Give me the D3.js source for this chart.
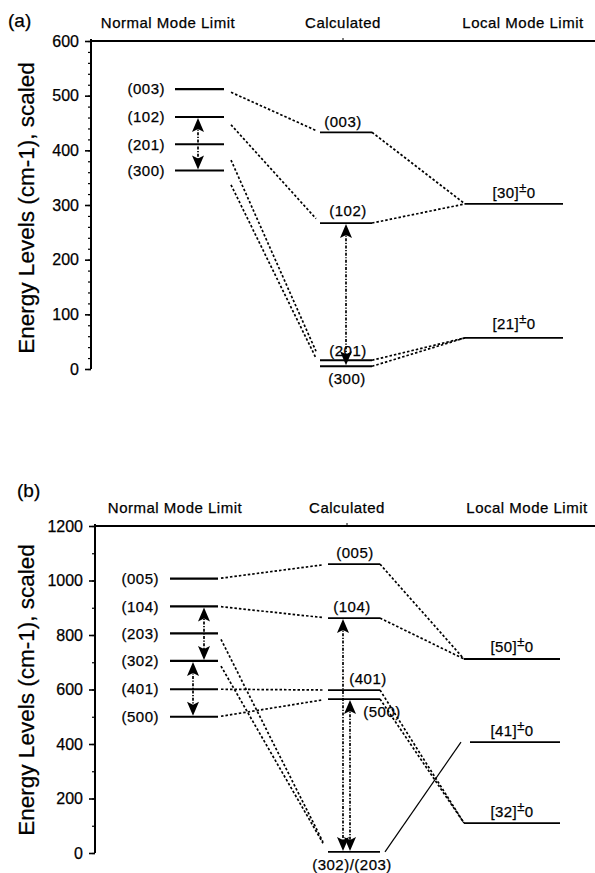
<!DOCTYPE html>
<html>
<head>
<meta charset="utf-8">
<script src="https://cdn.jsdelivr.net/npm/d3@7"></script>
<style>
  html, body { margin: 0; padding: 0; background: #fff; }
  svg { display: block; }
  text { font-family: "Liberation Sans", Arial, Helvetica, sans-serif; fill: #000; stroke: #000; stroke-width: 0.25; }
</style>
</head>
<body>
<svg id="chart" width="595" height="873"></svg>
<script>
// ---- Panel (a): fundamental-overtone manifold, v = 3 ----
const aTicks = [0, 100, 200, 300, 400, 500, 600];
const aMinorTicks = d3.range(0, 601, 20);
const aNormalLabels = ["(003)", "(102)", "(201)", "(300)"];
const aNormalValues = [512, 461, 411, 363];
const aCalcLabels = ["(003)", "(102)", "(201)", "(300)"];
const aCalcValues = [433, 267, 16, 5];
const aLocalLabels = ["[30]", "[21]"];
const aLocalValues = [302, 57];
// index pairs: normal -> calculated, calculated -> local
const aNormalToCalc = [[0, 0], [1, 1], [2, 2], [3, 3]];
const aCalcToLocal = [[0, 0], [1, 0], [2, 1], [3, 1]];
// double arrows: [column, fromIndex, toIndex]
const aArrows = [["normal", 1, 3], ["calc", 1, 3]];

// ---- Panel (b): v = 5 ----
const bTicks = [0, 200, 400, 600, 800, 1000, 1200];
const bMinorTicks = d3.range(0, 1201, 100);
const bNormalLabels = ["(005)", "(104)", "(203)", "(302)", "(401)", "(500)"];
const bNormalValues = [1007, 905, 806, 705, 601, 500];
const bCalcLabels = ["(005)", "(104)", "(401)", "(500)", "(302)/(203)"];
const bCalcValues = [1060, 862, 598, 565, 4];
const bLocalLabels = ["[50]", "[41]", "[32]"];
const bLocalValues = [712, 407, 110];
const bNormalToCalc = [[0, 0], [1, 1], [2, 4], [3, 4], [4, 2], [5, 3]];
const bCalcToLocal = [[0, 0], [1, 0], [2, 2], [3, 2], [4, 1]];
const bSolidLinks = [[4, 1]];
const bArrows = [["normal", 1, 3], ["normal", 3, 5], ["calc", 1, 4], ["calc", 3, 4]];

const headers = ["Normal Mode Limit", "Calculated", "Local Mode Limit"];
const yTitle = "Energy Levels (cm-1), scaled";

// ---- layout (pixels) ----
const panels = [
  {
    tag: "(a)", tagPos: [8, 27],
    ticks: aTicks, minor: aMinorTicks, domain: [0, 600], range: [369, 41], axisX: 91,
    headerY: 28, headerX: [168, 343, 523], titleY: 208,
    normal: { labels: aNormalLabels, values: aNormalValues, x: [175, 224], labelX: 165 },
    calc: { labels: aCalcLabels, values: aCalcValues, x: [320, 372],
            place: [[-3, -5], [2, -7], [2, -4], [1, 18]] },
    local: { labels: aLocalLabels, values: aLocalValues, x: [465, 563],
             place: [[0, -6], [0, -9]] },
    n2c: aNormalToCalc, c2l: aCalcToLocal, solid: [], arrows: aArrows,
    arrowX: { normal: [198], calc: [346] },
    n2cGap: [7, 4], c2lGap: [0, 0]
  },
  {
    tag: "(b)", tagPos: [17, 497],
    ticks: bTicks, minor: bMinorTicks, domain: [0, 1200], range: [853, 526], axisX: 95,
    headerY: 513, headerX: [175, 347, 527], titleY: 690,
    normal: { labels: bNormalLabels, values: bNormalValues, x: [170, 218], labelX: 159 },
    calc: { labels: bCalcLabels, values: bCalcValues, x: [328, 380],
            place: [[1, -6], [-2, -6], [14, -6], [28, 18], [-2, 18]] },
    local: { labels: bLocalLabels, values: bLocalValues, x: [464, 560],
             place: [[0, -7], [0, -6], [0, -6]] },
    n2c: bNormalToCalc, c2l: bCalcToLocal, solid: bSolidLinks, arrows: bArrows,
    arrowX: { normal: [204, 193], calc: [343, 350] },
    n2cGap: [3, 5], c2lGap: [0, 0]
  }
];

const svg = d3.select("#chart");

function arrowHead(g, x, yTip, dir) {
  // dir = -1 : pointing up, +1 : pointing down
  const h = 14, w = 6;
  const p = d3.path();
  p.moveTo(x, yTip);
  p.lineTo(x - w, yTip - dir * h);
  p.lineTo(x, yTip - dir * (h - 3));
  p.lineTo(x + w, yTip - dir * h);
  p.closePath();
  g.append("path").attr("d", p.toString()).attr("fill", "#000");
}

function trimmedLine(x0, y0, x1, y1, g0, g1) {
  const dx = x1 - x0, dy = y1 - y0;
  const t0 = g0 / dx, t1 = 1 - g1 / dx;
  return [x0 + dx * t0, y0 + dy * t0, x0 + dx * t1, y0 + dy * t1];
}

panels.forEach(P => {
  const g = svg.append("g");
  const y = d3.scaleLinear().domain(P.domain).range(P.range);

  // panel tag
  g.append("text").attr("x", P.tagPos[0]).attr("y", P.tagPos[1])
    .attr("font-size", 19).text(P.tag);

  // column headers
  headers.forEach((h, i) => {
    g.append("text").attr("x", P.headerX[i]).attr("y", P.headerY)
      .attr("text-anchor", "middle").attr("font-size", 15)
      .attr("letter-spacing", 0.5).text(h);
  });

  // top frame line
  g.append("line").attr("x1", P.axisX).attr("x2", 595)
    .attr("y1", y(P.domain[1])).attr("y2", y(P.domain[1]))
    .attr("stroke", "#000").attr("stroke-width", 2);
  g.append("line").attr("x1", P.headerX[1]).attr("x2", P.headerX[1])
    .attr("y1", y(P.domain[1]) - 3).attr("y2", y(P.domain[1]))
    .attr("stroke", "#000").attr("stroke-width", 1);

  // y axis: minor then major ticks
  const minorAxis = d3.axisLeft(y).tickValues(P.minor).tickSize(3).tickFormat("");
  g.append("g").attr("transform", `translate(${P.axisX},0)`).call(minorAxis)
    .call(s => s.select(".domain").remove())
    .selectAll("line").attr("stroke-width", 1.2);
  const majorAxis = d3.axisLeft(y).tickValues(P.ticks).tickSize(6).tickPadding(6)
    .tickFormat(d3.format("d"));
  const ax = g.append("g").attr("transform", `translate(${P.axisX},0)`).call(majorAxis);
  ax.select(".domain").attr("stroke-width", 2).attr("d",
    `M0,${y(P.domain[0])}V${y(P.domain[1]) - 2}`);
  ax.selectAll("line").attr("stroke-width", 1.6);
  ax.selectAll("text").attr("font-size", 16).attr("font-family",
    '"Liberation Sans", Arial, sans-serif').attr("fill", "#000");

  // y axis title
  g.append("text")
    .attr("transform", `translate(34,${P.titleY}) rotate(-90)`)
    .attr("text-anchor", "middle").attr("font-size", 22.5).text(yTitle);

  const levelY = (col, i) => y(P[col].values[i]);

  // connectors normal -> calculated
  P.n2c.forEach(([a, b]) => {
    const [x0, y0, x1, y1] = trimmedLine(P.normal.x[1], levelY("normal", a),
      P.calc.x[0], levelY("calc", b), P.n2cGap[0], P.n2cGap[1]);
    g.append("line").attr("x1", x0).attr("y1", y0).attr("x2", x1).attr("y2", y1)
      .attr("stroke", "#000").attr("stroke-width", 1.7).attr("stroke-dasharray", "2.5,2");
  });

  // connectors calculated -> local
  P.c2l.forEach(([a, b]) => {
    const solid = P.solid.some(s => s[0] === a && s[1] === b);
    let xs = P.calc.x[1], xe = P.local.x[0];
    if (solid) { xs += 5; xe -= 3; }
    const [x0, y0, x1, y1] = trimmedLine(xs, levelY("calc", a),
      xe, levelY("local", b), P.c2lGap[0], P.c2lGap[1]);
    const ln = g.append("line").attr("x1", x0).attr("y1", y0).attr("x2", x1).attr("y2", y1)
      .attr("stroke", "#000");
    if (solid) ln.attr("stroke-width", 1.2);
    else ln.attr("stroke-width", 1.7).attr("stroke-dasharray", "2.5,2");
  });

  // level lines
  ["normal", "calc", "local"].forEach(col => {
    P[col].values.forEach((v, i) => {
      const x0 = (col === "local" && P === panels[1] && i === 1) ? P.local.x[0] + 6 : P[col].x[0];
      g.append("line").attr("x1", x0).attr("x2", P[col].x[1])
        .attr("y1", y(v)).attr("y2", y(v))
        .attr("stroke", "#000").attr("stroke-width", col === "normal" ? 2.1 : 1.8);
    });
  });

  // normal-mode labels (left of the level)
  P.normal.labels.forEach((t, i) => {
    g.append("text").attr("x", P.normal.labelX).attr("y", levelY("normal", i))
      .attr("dy", "0.35em").attr("text-anchor", "end").attr("font-size", 15)
      .attr("letter-spacing", 0.5).text(t);
  });

  // calculated labels
  const cMid = (P.calc.x[0] + P.calc.x[1]) / 2;
  P.calc.labels.forEach((t, i) => {
    const [dx, dy] = P.calc.place[i];
    g.append("text").attr("x", cMid + dx).attr("y", levelY("calc", i) + dy)
      .attr("text-anchor", "middle").attr("font-size", 15)
      .attr("letter-spacing", 0.5).text(t);
  });

  // local-mode labels  [nm]±0
  const lMid = (P.local.x[0] + P.local.x[1]) / 2;
  P.local.labels.forEach((t, i) => {
    const [dx, dy] = P.local.place[i];
    const tx = g.append("text").attr("x", lMid + dx).attr("y", levelY("local", i) + dy)
      .attr("text-anchor", "middle").attr("font-size", 15).attr("letter-spacing", 0.4);
    tx.append("tspan").text(t);
    tx.append("tspan").attr("dy", -6).attr("font-size", 13).text("±");
    tx.append("tspan").attr("dy", 6).text("0");
  });

  // double-headed dash-dot arrows
  const counters = { normal: 0, calc: 0 };
  P.arrows.forEach(([col, a, b]) => {
    const x = P.arrowX[col][counters[col]++];
    const yTop = levelY(col, a), yBot = levelY(col, b);
    g.append("line").attr("x1", x).attr("x2", x)
      .attr("y1", yTop + 8).attr("y2", yBot - 8)
      .attr("stroke", "#000").attr("stroke-width", 1.7)
      .attr("stroke-dasharray", "3,1.5,1.2,1.5");
    arrowHead(g, x, yTop + 1, -1);
    arrowHead(g, x, yBot - 1, 1);
  });
});
</script>
</body>
</html>
